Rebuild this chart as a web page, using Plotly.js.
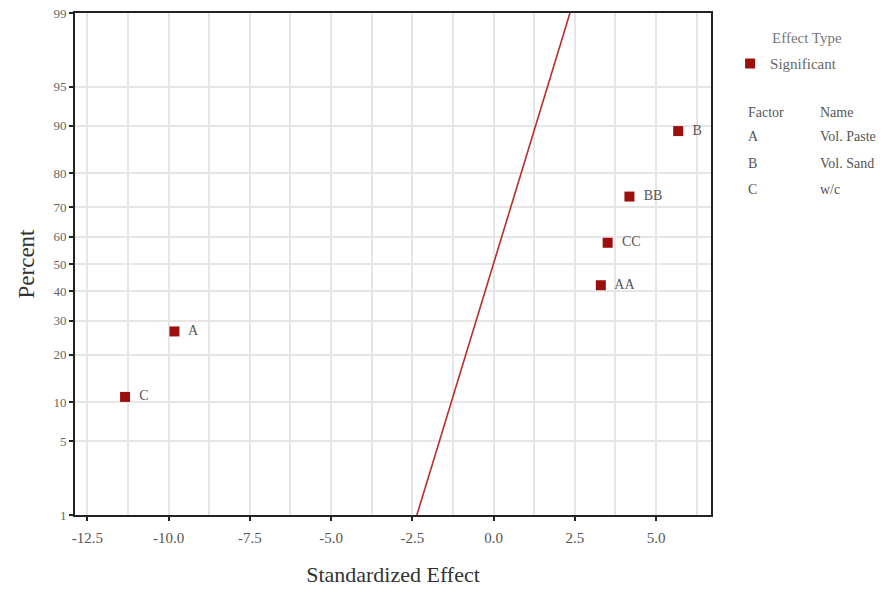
<!DOCTYPE html>
<html>
<head>
<meta charset="utf-8">
<script src="https://cdn.plot.ly/plotly-3.0.1.min.js"></script>
<style>html,body{margin:0;padding:0;background:#fff;}#chart{width:895px;height:590px;}</style>
</head>
<body>
<div id="chart"></div>
<script>
// Data
var termLabels = ["C", "A", "AA", "CC", "BB", "B"];
var effects = [-11.34, -9.82, 3.30, 3.51, 4.18, 5.68];
var percents = [10.9, 26.6, 42.2, 57.8, 73.4, 89.1];
var lineEffects = [-2.36, 2.35];
var linePercents = [1, 99];
var yTickPercents = [1, 5, 10, 20, 30, 40, 50, 60, 70, 80, 90, 95, 99];
var xTickVals = [-12.5, -10.0, -7.5, -5.0, -2.5, 0.0, 2.5, 5.0];
var xTickText = ["-12.5", "-10.0", "-7.5", "-5.0", "-2.5", "0.0", "2.5", "5.0"];
var factorCodes = ["A", "B", "C"];
var factorNames = ["Vol. Paste", "Vol. Sand", "w/c"];

// inverse normal CDF (Acklam) for probability-scale axis
function norminv(p){
  var a=[-3.969683028665376e+01,2.209460984245205e+02,-2.759285104469687e+02,1.383577518672690e+02,-3.066479806614716e+01,2.506628277459239e+00];
  var b=[-5.447609879822406e+01,1.615858368580409e+02,-1.556989798598866e+02,6.680131188771972e+01,-1.328068155288572e+01];
  var c=[-7.784894002430293e-03,-3.223964580411365e-01,-2.400758277161838e+00,-2.549732539343734e+00,4.374664141464968e+00,2.938163982698783e+00];
  var d=[7.784695709041462e-03,3.224671290700398e-01,2.445134137142996e+00,3.754408661907416e+00];
  var pl=0.02425, ph=1-pl, q, r;
  if(p<pl){q=Math.sqrt(-2*Math.log(p));return (((((c[0]*q+c[1])*q+c[2])*q+c[3])*q+c[4])*q+c[5])/((((d[0]*q+d[1])*q+d[2])*q+d[3])*q+1);}
  if(p<=ph){q=p-0.5;r=q*q;return (((((a[0]*r+a[1])*r+a[2])*r+a[3])*r+a[4])*r+a[5])*q/(((((b[0]*r+b[1])*r+b[2])*r+b[3])*r+b[4])*r+1);}
  q=Math.sqrt(-2*Math.log(1-p));return -(((((c[0]*q+c[1])*q+c[2])*q+c[3])*q+c[4])*q+c[5])/((((d[0]*q+d[1])*q+d[2])*q+d[3])*q+1);
}
function toZ(arr){return arr.map(function(v){return norminv(v/100);});}

var serif = "Liberation Serif, Times New Roman, serif";
var red = "#9b0f0f";
var grid = "#e6e6e6";

var traces = [
  {
    x: lineEffects, y: toZ(linePercents), mode: "lines",
    line: {color: "#b5302b", width: 1.6}, showlegend: false, hoverinfo: "skip"
  },
  {
    x: effects, y: toZ(percents), mode: "markers+text", name: "Significant",
    text: termLabels.map(function(t){return "  " + t;}),
    textposition: "middle right",
    textfont: {family: serif, size: 14, color: "#555"},
    marker: {symbol: "square", size: 10, color: red},
    cliponaxis: false
  }
];

var annotations = [
  {xref: "paper", yref: "paper", x: 1.093, y: 0.950, xanchor: "left", yanchor: "middle",
   text: "Effect Type", showarrow: false, font: {family: serif, size: 15, color: "#777"}},
  {xref: "paper", yref: "paper", x: 1.055, y: 0.801, xanchor: "left", yanchor: "middle",
   text: "Factor", showarrow: false, font: {family: serif, size: 14, color: "#555"}},
  {xref: "paper", yref: "paper", x: 1.168, y: 0.801, xanchor: "left", yanchor: "middle",
   text: "Name", showarrow: false, font: {family: serif, size: 14, color: "#555"}}
];
factorCodes.forEach(function(code, i){
  var yy = 0.753 - i * 0.052;
  annotations.push({xref: "paper", yref: "paper", x: 1.055, y: yy, xanchor: "left", yanchor: "middle",
    text: code, showarrow: false, font: {family: serif, size: 14, color: "#555"}});
  annotations.push({xref: "paper", yref: "paper", x: 1.168, y: yy, xanchor: "left", yanchor: "middle",
    text: factorNames[i], showarrow: false, font: {family: serif, size: 14, color: "#555"}});
});

var layout = {
  width: 895, height: 590,
  margin: {l: 75, r: 184, t: 13, b: 75},
  paper_bgcolor: "#fff", plot_bgcolor: "#fff",
  font: {family: serif, color: "#555"},
  showlegend: true,
  legend: {x: 1.03, y: 0.899, xanchor: "left", yanchor: "middle", bgcolor: "rgba(0,0,0,0)",
           font: {family: serif, size: 15, color: "#666"}, itemwidth: 30},
  xaxis: {
    range: [-12.88, 6.69], tickmode: "array", tickvals: xTickVals, ticktext: xTickText,
    showgrid: true, gridcolor: grid, gridwidth: 2,
    minor: {tickmode: "linear", tick0: 0, dtick: 1.25, showgrid: true, gridcolor: grid, gridwidth: 2, ticks: ""},
    showline: true, linecolor: "#222", linewidth: 2, mirror: true,
    ticks: "outside", ticklen: 4, tickwidth: 2, tickcolor: "#222",
    tickfont: {family: serif, size: 15, color: "#555"},
    ticklabelstandoff: 4,
    zeroline: false,
    title: {text: "Standardized Effect", font: {family: serif, size: 22, color: "#333"}, standoff: 22}
  },
  yaxis: {
    range: [norminv(0.01), norminv(0.99)],
    tickmode: "array", tickvals: toZ(yTickPercents), ticktext: yTickPercents.map(String),
    showgrid: true, gridcolor: grid, gridwidth: 2,
    showline: true, linecolor: "#222", linewidth: 2, mirror: true,
    ticks: "outside", ticklen: 4, tickwidth: 2, tickcolor: "#222",
    tickfont: {family: serif, size: 13, color: "#666"},
    zeroline: false,
    title: {text: "Percent", font: {family: serif, size: 23, color: "#333"}, standoff: 12}
  },
  annotations: annotations
};

Plotly.newPlot("chart", traces, layout, {displayModeBar: false, staticPlot: true});
</script>
</body>
</html>
